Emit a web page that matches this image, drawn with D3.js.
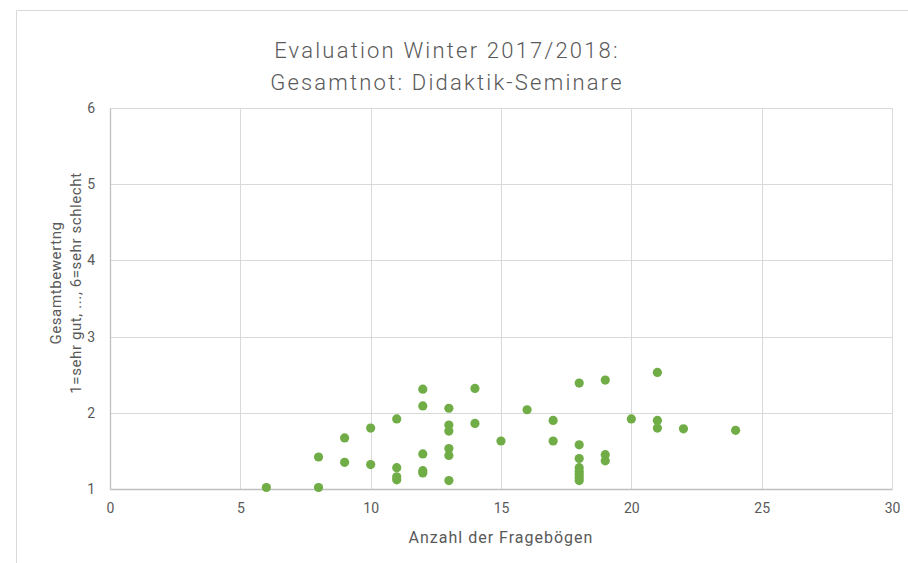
<!DOCTYPE html>
<html>
<head>
<meta charset="utf-8">
<script src="https://cdn.jsdelivr.net/npm/d3@7"></script>
<style>
  html, body { margin: 0; padding: 0; background: #fff; }
  svg { display: block; font-family: Roboto, "Open Sans", sans-serif; }
</style>
</head>
<body>
<div id="chart"></div>
<script>
const titleLines = ['Evaluation Winter 2017/2018:', 'Gesamtnot: Didaktik-Seminare'];
const xLabel = 'Anzahl der Fragebögen';
const yLabelLines = ['Gesamtbewertng', '1=sehr gut, ..., 6=sehr schlecht'];
const xTicks = [0, 5, 10, 15, 20, 25, 30];
const yTicks = [1, 2, 3, 4, 5, 6];

// Anzahl der Fragebögen per seminar
const responses = [
  6, 8, 8, 9, 9, 10, 10,
  11, 11, 11, 11,
  12, 12, 12, 12, 12,
  13, 13, 13, 13, 13, 13,
  14, 14, 15, 16, 17, 17,
  18, 18, 18, 18, 18, 18, 18, 18,
  19, 19, 19, 20, 21, 21, 21, 22, 24
];
// Gesamtnote per seminar
const grades = [
  1.02, 1.42, 1.02, 1.67, 1.35, 1.80, 1.32,
  1.92, 1.28, 1.16, 1.12,
  2.31, 2.09, 1.46, 1.24, 1.21,
  2.06, 1.84, 1.76, 1.53, 1.44, 1.11,
  2.32, 1.86, 1.63, 2.04, 1.90, 1.63,
  2.39, 1.58, 1.40, 1.28, 1.23, 1.19, 1.15, 1.11,
  2.43, 1.45, 1.37, 1.92, 2.53, 1.90, 1.80, 1.79, 1.77
];
const points = responses.map((r, i) => ({ n: r, grade: grades[i] }));

const width = 908;
const height = 563;
const margin = { top: 108, right: 16, bottom: 74, left: 110 };
const innerWidth = width - margin.left - margin.right;
const innerHeight = height - margin.top - margin.bottom;
const textColor = '#595959';

const svg = d3.select('#chart').append('svg').attr('width', width).attr('height', height);

// chart area frame: only its top and left edges fall inside the view
svg.append('line').attr('x1', 16.5).attr('x2', 16.5).attr('y1', 10.5).attr('y2', height).attr('stroke', '#d9d9d9');
svg.append('line').attr('x1', 16.5).attr('x2', width).attr('y1', 10.5).attr('y2', 10.5).attr('stroke', '#d9d9d9');

const g = svg.append('g').attr('transform', `translate(${margin.left},${margin.top})`);

const x = d3.scaleLinear().domain([0, 30]).range([0, innerWidth]);
const y = d3.scaleLinear().domain([1, 6]).range([innerHeight, 0]);

// gridlines
g.append('g').selectAll('line').data(yTicks.slice(1)).join('line')
  .attr('x1', 0).attr('x2', innerWidth)
  .attr('y1', (d) => Math.round(y(d)) + 0.5).attr('y2', (d) => Math.round(y(d)) + 0.5)
  .attr('stroke', '#d9d9d9');
g.append('g').selectAll('line').data(xTicks.slice(1)).join('line')
  .attr('x1', (d) => Math.round(x(d)) + 0.5).attr('x2', (d) => Math.round(x(d)) + 0.5)
  .attr('y1', 0).attr('y2', innerHeight)
  .attr('stroke', '#d9d9d9');

// axes
const xAxis = g.append('g').attr('transform', `translate(0,${innerHeight})`)
  .call(d3.axisBottom(x).tickValues(xTicks).tickFormat(d3.format('d')).tickSize(0).tickPadding(14));
const yAxis = g.append('g')
  .call(d3.axisLeft(y).tickValues(yTicks).tickFormat(d3.format('d')).tickSize(0).tickPadding(15));
[xAxis, yAxis].forEach((ax) => {
  ax.select('.domain').attr('stroke', '#bfbfbf').attr('stroke-width', 1.3);
  ax.selectAll('text').attr('fill', textColor).attr('font-size', 14).attr('font-family', 'Roboto, sans-serif');
});

// points
g.append('g').selectAll('circle').data(points).join('circle')
  .attr('cx', (d) => x(d.n))
  .attr('cy', (d) => y(d.grade))
  .attr('r', 4.6)
  .attr('fill', '#70ad47');

// title
svg.append('g').selectAll('text').data(titleLines).join('text')
  .attr('x', 447).attr('y', (d, i) => 58 + i * 31.5)
  .attr('text-anchor', 'middle')
  .attr('fill', textColor).attr('font-size', 22).attr('font-weight', 300)
  .attr('letter-spacing', 2.2)
  .text((d) => d);

// axis titles
svg.append('text')
  .attr('x', margin.left + innerWidth / 2).attr('y', 543)
  .attr('text-anchor', 'middle').attr('fill', textColor).attr('font-size', 16)
  .attr('letter-spacing', 1)
  .text(xLabel);
svg.append('g').attr('transform', 'translate(61,283) rotate(-90)')
  .selectAll('text').data(yLabelLines).join('text')
  .attr('x', 0).attr('y', (d, i) => i * 20)
  .attr('text-anchor', 'middle').attr('fill', textColor).attr('font-size', 15)
  .attr('letter-spacing', 0.6)
  .text((d) => d);
</script>
</body>
</html>
